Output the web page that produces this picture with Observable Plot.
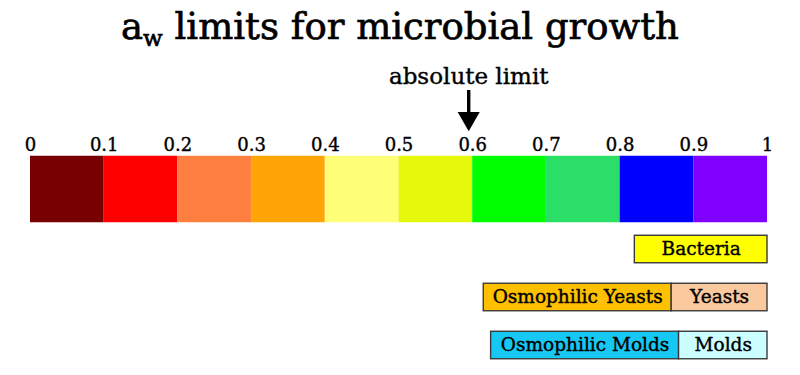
<!DOCTYPE html>
<html>
<head>
<meta charset="utf-8">
<script src="https://cdn.jsdelivr.net/npm/d3@7"></script>
<script src="https://cdn.jsdelivr.net/npm/@observablehq/plot@0.6"></script>
<style>
  html, body { margin: 0; padding: 0; background: #fff; }
  body { width: 800px; height: 375px; overflow: hidden; }
  #title {
    height: 50px; box-sizing: border-box; padding-top: 7px;
    font-family: "DejaVu Serif", serif; font-size: 37px; line-height: 40px;
    text-align: center; color: #000; white-space: nowrap;
    -webkit-text-stroke: 0.7px #000;
  }
  #title sub { font-size: 62%; vertical-align: -0.3em; line-height: 0; }
  #chart svg { display: block; }
  #chart svg text { paint-order: stroke; }
</style>
</head>
<body>
<div id="title">a<sub>w</sub> limits for microbial growth</div>
<div id="chart"></div>
<script>
// Water activity spectrum segments
const segmentStart = [0, 0.1, 0.2, 0.3, 0.4, 0.5, 0.6, 0.7, 0.8, 0.9];
const segmentEnd   = [0.1, 0.2, 0.3, 0.4, 0.5, 0.6, 0.7, 0.8, 0.9, 1.0];
const segmentColors = ["#780000", "#ff0000", "#ff7f40", "#ffa505", "#ffff78",
                       "#e6f90a", "#00ff00", "#2ade68", "#0000ff", "#8000ff"];

// Axis ticks
const tickValues = [0, 0.1, 0.2, 0.3, 0.4, 0.5, 0.6, 0.7, 0.8, 0.9, 1];
const tickLabels = ["0", "0.1", "0.2", "0.3", "0.4", "0.5", "0.6", "0.7", "0.8", "0.9", "1"];

// Organism growth ranges
const organismNames  = ["Bacteria", "Osmophilic Yeasts", "Yeasts", "Osmophilic Molds", "Molds"];
const organismGroups = ["Bacteria", "Yeasts", "Yeasts", "Molds", "Molds"];
const organismMin    = [0.82, 0.615, 0.87, 0.625, 0.88];
const organismMax    = [1.0, 0.87, 1.0, 0.88, 1.0];
const organismColors = ["#ffff00", "#ffc000", "#fbc99e", "#18c8f4", "#ccffff"];

// Annotation
const limitValue = [0.6];
const limitLabel = ["absolute limit"];

const rows = ["Spectrum", "Bacteria", "Yeasts", "Molds"];

const spectrum = segmentStart.map((s, i) => ({x1: s, x2: segmentEnd[i], color: segmentColors[i]}));
const organisms = organismNames.map((n, i) => ({
  name: n, row: organismGroups[i], x1: organismMin[i], x2: organismMax[i], color: organismColors[i]
}));

const chart = Plot.plot({
  width: 800,
  height: 325,
  marginLeft: 30,
  marginRight: 33,
  marginTop: 0,
  marginBottom: 0,
  style: {fontFamily: "'DejaVu Serif', serif", background: "#fff", color: "#000"},
  x: {domain: [0, 1], axis: null},
  y: {type: "band", domain: rows, range: [126.25, 320.25], padding: 0, axis: null},
  color: {type: "identity"},
  marks: [
    Plot.barX(spectrum, {x1: "x1", x2: "x2", y: () => "Spectrum", fill: "color",
      insetTop: -21.25, insetBottom: 2.75, insetLeft: 0, insetRight: 0}),
    Plot.text(tickValues, {x: d => d, text: (d, i) => tickLabels[i], frameAnchor: "top",
      dy: 100, lineAnchor: "bottom", fontSize: 18, fill: "#000", stroke: "#000", strokeWidth: 0.4}),
    Plot.text(limitValue, {x: d => d, text: () => limitLabel[0], frameAnchor: "top",
      dy: 33, dx: -4, lineAnchor: "bottom", fontSize: 23, fill: "#000", stroke: "#000", strokeWidth: 0.4}),
    Plot.ruleX(limitValue, {x: d => d, dx: -4, insetTop: 40, insetBottom: 325 - 64, strokeWidth: 3.4, stroke: "#000"}),
    Plot.dot(limitValue, {x: d => d, dx: -4, frameAnchor: "top", dy: 68, symbol: "triangle",
      rotate: 180, r: 8.2, fill: "#000", stroke: "none"}),
    Plot.barX(organisms, {x1: "x1", x2: "x2", y: "row", fill: "color", stroke: "#3a3a3a",
      strokeWidth: 1.4, insetTop: 10.25, insetBottom: 10.25, insetLeft: 0, insetRight: 0}),
    Plot.text(organisms, {x: d => (d.x1 + d.x2) / 2, y: "row", text: "name", fontSize: 18.5,
      fill: "#000", stroke: "#000", strokeWidth: 0.4})
  ]
});
document.getElementById("chart").appendChild(chart);
</script>
</body>
</html>
